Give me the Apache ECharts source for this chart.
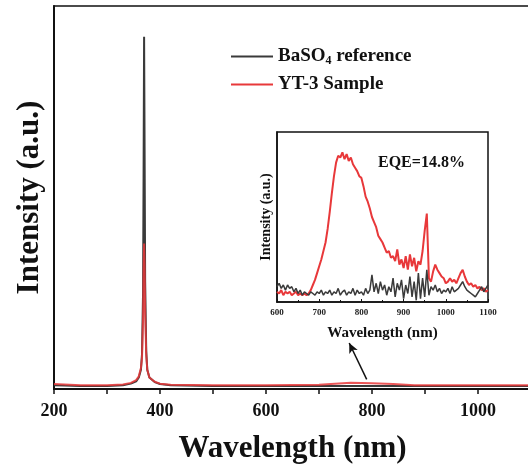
<!DOCTYPE html>
<html>
<head>
<meta charset="utf-8">
<script src="https://cdn.jsdelivr.net/npm/echarts@6/dist/echarts.min.js"></script>
<style>html,body{margin:0;padding:0;background:#fff}#c{width:528px;height:470px}</style>
</head>
<body>
<div id="c"></div>
<script>
// ---- main spectrum (wavelength nm, intensity a.u. 0-100) ----
var mainWl    = [200, 220, 250, 300, 330, 345, 355, 360, 364, 366, 368, 369, 370, 371, 372, 374, 376, 380, 390, 400, 420, 500, 600, 700, 730, 760, 800, 840, 880, 1000, 1100];
var mainBlack = [1.0, 0.9, 0.8, 0.8, 1.0, 1.4, 2.0, 3.0, 5.0, 9.0, 25, 55, 92, 60, 28, 10, 5.0, 3.0, 1.8, 1.3, 1.0, 0.8, 0.8, 0.8, 0.8, 0.8, 0.8, 0.8, 0.8, 0.8, 0.8];
var mainRed   = [1.3, 1.2, 1.0, 1.0, 1.2, 1.6, 2.3, 3.3, 5.5, 8.0, 18, 30, 38, 32, 20, 9.0, 5.0, 3.0, 1.9, 1.4, 1.1, 1.0, 1.0, 1.1, 1.4, 1.6, 1.5, 1.3, 1.0, 1.0, 1.0];
var mainTicks = [200, 400, 600, 800, 1000];

// ---- inset spectrum, 600-1100 nm every 5 nm ----
var insetStart = 600, insetStep = 5;
var insetRed = [6,5,7,4,6,5,6,4,5,6, 4,5,4,5,4,5,7,10,13,17,
  21,25,30,35,43,53,64,74,82,86, 85,88,84,87,83,85,81,79,77,74,
  73,68,62,59,55,50,47,44,39,37, 35,32,29,30,26,27,24,31,22,25,
  20,27,19,28,21,26,18,24,22,30, 42,52,14,12,18,22,19,17,15,14,
  11,12,14,12,13,11,14,17,19,15, 12,10,11,9,10,8,9,7,8,6, 7];
var insetBlack = [9,11,8,10,7,10,8,9,6,8, 5,7,4,6,5,4,6,5,4,6,
  5,7,4,6,5,7,4,6,5,8, 4,6,7,4,6,5,8,4,7,5,
  6,4,8,5,7,16,6,11,5,12, 7,10,4,9,6,14,3,11,7,13,
  2,10,5,15,3,12,1,17,2,14, 3,19,4,9,7,10,6,8,5,7,
  6,8,5,9,6,7,8,10,12,9, 7,6,5,4,3,5,7,9,6,8, 10];
var insetTicks = [600, 700, 800, 900, 1000, 1100];

var seriesNames = ['BaSO4 reference', 'YT-3 Sample'];
var eqeText = 'EQE=14.8%';

function pairs(xs, ys){ return xs.map(function(x,i){ return [x, ys[i]]; }); }
function insetPairs(ys){ return ys.map(function(y,i){ return [insetStart + i*insetStep, y]; }); }

var F = 'Liberation Serif';
var BLACK = '#3a3a3a', RED = '#e8383a';

var chart = echarts.init(document.getElementById('c'), null, {renderer:'canvas'});
chart.setOption({
  backgroundColor: '#fff',
  animation: false,
  grid: [
    {left: 54, top: 6, width: 477, height: 383, show: true, borderColor: '#111', borderWidth: 1.5, containLabel: false, outerBoundsMode: 'none'},
    {left: 277, top: 132, width: 211, height: 170, show: true, borderColor: '#111', borderWidth: 1.5, backgroundColor: '#fff', outerBoundsMode: 'none'}
  ],
  xAxis: [
    {gridIndex: 0, type: 'value', min: 200, max: 1100, interval: 100,
     axisLine: {show: true, onZero: false, lineStyle: {color: '#111', width: 2}},
     axisTick: {show: true, inside: false, length: 5, lineStyle: {color: '#111', width: 1.5}},
     minorTick: {show: false},
     axisLabel: {fontFamily: F, fontWeight: 'bold', fontSize: 18, color: '#111', margin: 13,
       formatter: function(v){ return mainTicks.indexOf(v) >= 0 ? String(v) : ''; }},
     splitLine: {show: false},
     name: 'Wavelength (nm)', nameLocation: 'middle', nameGap: 44,
     nameTextStyle: {fontFamily: F, fontWeight: 'bold', fontSize: 31, color: '#111'}},
    {gridIndex: 1, type: 'value', min: 600, max: 1100, interval: 100,
     axisLine: {show: true, onZero: false, lineStyle: {color: '#111', width: 1.5}},
     axisTick: {show: true, inside: true, length: 3, lineStyle: {color: '#111', width: 1}},
     minorTick: {show: true, splitNumber: 2, length: 2, lineStyle: {color: '#111'}},
     axisLabel: {fontFamily: F, fontWeight: 'bold', fontSize: 9, color: '#222', margin: 6,
       formatter: function(v){ return insetTicks.indexOf(v) >= 0 ? String(v) : ''; }},
     splitLine: {show: false},
     name: 'Wavelength (nm)', nameLocation: 'middle', nameGap: 24,
     nameTextStyle: {fontFamily: F, fontWeight: 'bold', fontSize: 15, color: '#111'}}
  ],
  yAxis: [
    {gridIndex: 0, type: 'value', min: 0, max: 100,
     axisLine: {show: true, lineStyle: {color: '#111', width: 2}},
     axisTick: {show: false}, axisLabel: {show: false}, splitLine: {show: false},
     name: 'Intensity (a.u.)', nameLocation: 'middle', nameGap: 9,
     nameTextStyle: {fontFamily: F, fontWeight: 'bold', fontSize: 31, color: '#111'}},
    {gridIndex: 1, type: 'value', min: 0, max: 100,
     axisLine: {show: true, lineStyle: {color: '#111', width: 1.5}},
     axisTick: {show: false}, axisLabel: {show: false}, splitLine: {show: false},
     name: 'Intensity (a.u.)', nameLocation: 'middle', nameGap: 4,
     nameTextStyle: {fontFamily: F, fontWeight: 'bold', fontSize: 14, color: '#111'}}
  ],
  legend: {
    data: seriesNames, orient: 'vertical', left: 231, top: 46, itemGap: 8, padding: 0,
    itemWidth: 42, itemHeight: 2, icon: 'rect',
    formatter: function(n){ return n === seriesNames[0] ? '{t|BaSO}{s|4}{t| reference}' : '{t|' + n + '}'; },
    textStyle: {fontFamily: F, fontWeight: 'bold', fontSize: 19, color: '#111',
      rich: {
        t: {fontFamily: F, fontWeight: 'bold', fontSize: 19, color: '#111', lineHeight: 23},
        s: {fontFamily: F, fontWeight: 'bold', fontSize: 12, color: '#111', lineHeight: 23, padding: [9, 0, 0, 0]}
      }}
  },
  graphic: [
    {type: 'text', left: 378, top: 155, z: 100,
     style: {text: eqeText, font: 'bold 16px "Liberation Serif"', fill: '#111'}}
  ],
  series: [
    {name: seriesNames[0], type: 'line', xAxisIndex: 0, yAxisIndex: 0, data: pairs(mainWl, mainBlack),
     showSymbol: false, symbol: 'none', lineStyle: {color: BLACK, width: 2}, itemStyle: {color: BLACK}, z: 2,
     markLine: {silent: true, symbolSize: [7, 10], animation: false, label: {show: false},
       lineStyle: {color: '#111', width: 1.5, type: 'solid'},
       data: [[{coord: [790, 2.5], symbol: 'none'}, {coord: [757, 12], symbol: 'arrow'}]]}},
    {name: seriesNames[1], type: 'line', xAxisIndex: 0, yAxisIndex: 0, data: pairs(mainWl, mainRed),
     showSymbol: false, symbol: 'none', lineStyle: {color: RED, width: 2, opacity: 0.85}, itemStyle: {color: RED}, z: 3},
    {name: 'insetRed', type: 'line', xAxisIndex: 1, yAxisIndex: 1, data: insetPairs(insetRed),
     showSymbol: false, symbol: 'none', lineStyle: {color: RED, width: 2}, z: 4},
    {name: 'insetBlack', type: 'line', xAxisIndex: 1, yAxisIndex: 1, data: insetPairs(insetBlack),
     showSymbol: false, symbol: 'none', lineStyle: {color: BLACK, width: 1.5}, z: 5}
  ]
});
</script>
</body>
</html>
